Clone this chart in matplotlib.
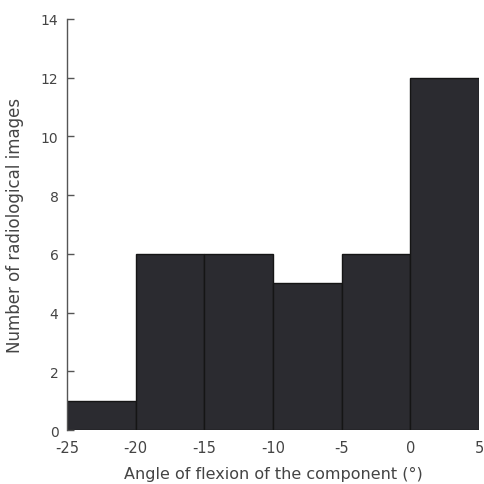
import matplotlib
matplotlib.use('Agg')
import matplotlib.pyplot as plt
import numpy as np

# histogram bins (degrees) and counts
bin_edges = [-25, -20, -15, -10, -5, 0, 5]
counts = [1, 6, 6, 5, 6, 12]
yticks = [0, 2, 4, 6, 8, 10, 12, 14]
xticks = [-25, -20, -15, -10, -5, 0, 5]

fig = plt.figure(figsize=(4.84, 4.85), dpi=100)
ax = fig.add_axes([0.138, 0.111, 0.852, 0.848])

left = np.array(bin_edges[:-1])
widths = np.diff(bin_edges)
ax.bar(left, counts, width=widths, align='edge', color='#2b2b30',
       edgecolor='#151515', linewidth=1.0)

ax.set_xlim(-25, 5)
ax.set_ylim(0, 14)
ax.set_yticks(yticks)
ax.set_xticks(xticks)
ax.set_xticklabels([str(t) for t in xticks])

for s in ['top', 'right', 'bottom']:
    ax.spines[s].set_visible(False)
ax.spines['left'].set_color('#555555')
ax.spines['left'].set_linewidth(1.0)

ax.tick_params(axis='y', direction='in', length=5, width=1, color='#555555',
               labelsize=10, labelcolor='#444444', pad=6)
ax.tick_params(axis='x', length=0, labelsize=10.5, labelcolor='#444444', pad=7)

ax.set_xlabel('Angle of flexion of the component (°)', fontsize=11.5,
              color='#444444', labelpad=8)
ax.set_ylabel('Number of radiological images', fontsize=12,
              color='#444444', labelpad=12)

fig.savefig('out.png', dpi=100)
